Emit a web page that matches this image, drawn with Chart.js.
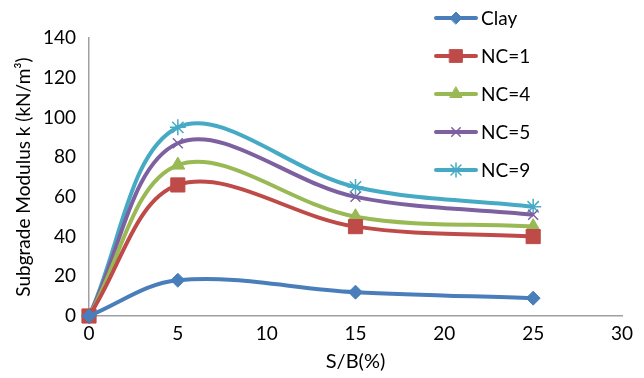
<!DOCTYPE html>
<html>
<head>
<meta charset="UTF-8" />
<title>Subgrade Modulus vs S/B</title>
<style>
  body { margin: 0; background: #fff; }
  #wrap { width: 644px; height: 378px; position: relative; }
</style>
</head>
<body>
<div id="wrap"><canvas id="chart" width="644" height="378"></canvas></div>
<script src="https://cdn.jsdelivr.net/npm/chart.js"></script>
<script>
const sbPercent = [0, 5, 15, 25];
const clay = [0, 18, 12, 9];
const nc1 = [0, 66, 45, 40];
const nc4 = [0, 76, 50, 45];
const nc5 = [0, 87, 60, 51];
const nc9 = [0, 95, 65, 55];
const xTicks = [0, 5, 10, 15, 20, 25, 30];
const yTicks = [0, 20, 40, 60, 80, 100, 120, 140];

const FONT = 'Lato, "Open Sans", sans-serif';

const series = [
  { label: 'Clay', values: clay, color: '#4a7ebb', style: 'rectRot', r: 7 },
  { label: 'NC=1', values: nc1, color: '#be4b48', style: 'rect', r: 10 },
  { label: 'NC=4', values: nc4, color: '#98b954', style: 'triangle', r: 8 },
  { label: 'NC=5', values: nc5, color: '#7d60a0', style: 'crossRot', r: 7 },
  { label: 'NC=9', values: nc9, color: '#46aac5', style: 'star', r: 8 }
];

const datasets = series.map(s => ({
  label: s.label,
  data: sbPercent.map((x, i) => ({ x: x, y: s.values[i] })),
  borderColor: s.color,
  backgroundColor: s.color,
  borderWidth: 4,
  tension: 0.35,
  pointStyle: s.style,
  pointRadius: s.r,
  pointBorderWidth: (s.style === 'crossRot' || s.style === 'star') ? 1.5 : 1,
  pointBorderColor: s.color,
  showLine: true,
  clip: false
}));

// legend drawn over the upper right of the plot, line + marker like the original
const sideLegend = {
  id: 'sideLegend',
  afterDraw(chart) {
    const ctx = chart.ctx;
    ctx.save();
    series.forEach((s, i) => {
      const y = 18 + i * 38;
      ctx.strokeStyle = s.color;
      ctx.lineWidth = 4;
      ctx.lineCap = 'round';
      ctx.beginPath();
      ctx.moveTo(436, y);
      ctx.lineTo(476, y);
      ctx.stroke();
      ctx.fillStyle = s.color;
      ctx.lineWidth = (s.style === 'crossRot' || s.style === 'star') ? 1.5 : 1;
      Chart.helpers.drawPoint(ctx, { pointStyle: s.style, radius: s.r - 1, borderWidth: ctx.lineWidth }, 456, y);
      ctx.fillStyle = '#000';
      ctx.font = '19px ' + FONT;
      ctx.textBaseline = 'middle';
      ctx.textAlign = 'left';
      ctx.fillText(s.label, 481, y + 1);
    });
    ctx.restore();
  }
};

new Chart(document.getElementById('chart'), {
  type: 'line',
  data: { datasets: datasets },
  options: {
    responsive: false,
    animation: false,
    layout: { padding: { left: 0, right: 22, top: 38, bottom: 0 } },
    plugins: { legend: { display: false }, tooltip: { enabled: false } },
    scales: {
      x: {
        type: 'linear',
        min: 0, max: 30,
        afterBuildTicks: ax => { ax.ticks = xTicks.map(v => ({ value: v })); },
        afterFit: ax => { ax.height = 62; },
        grid: { display: false, drawTicks: false },
        border: { color: '#a0a0a0', width: 1.5 },
        ticks: { color: '#000', font: { family: FONT, size: 19 }, padding: 6, maxRotation: 0 },
        title: { display: true, text: 'S/B(%)', color: '#000', font: { family: FONT, size: 20 }, padding: { top: 4 } }
      },
      y: {
        min: 0, max: 140,
        afterBuildTicks: ax => { ax.ticks = yTicks.map(v => ({ value: v })); },
        afterFit: ax => { ax.width = 89; },
        grid: { display: false, drawTicks: false },
        border: { color: '#a0a0a0', width: 1.5 },
        ticks: { color: '#000', font: { family: FONT, size: 19 }, padding: 13 },
        title: { display: true, text: 'Subgrade Modulus k (kN/m³)', color: '#000', font: { family: FONT, size: 19 }, padding: { top: 12, bottom: 0 } }
      }
    }
  },
  plugins: [sideLegend]
});
</script>
</body>
</html>
